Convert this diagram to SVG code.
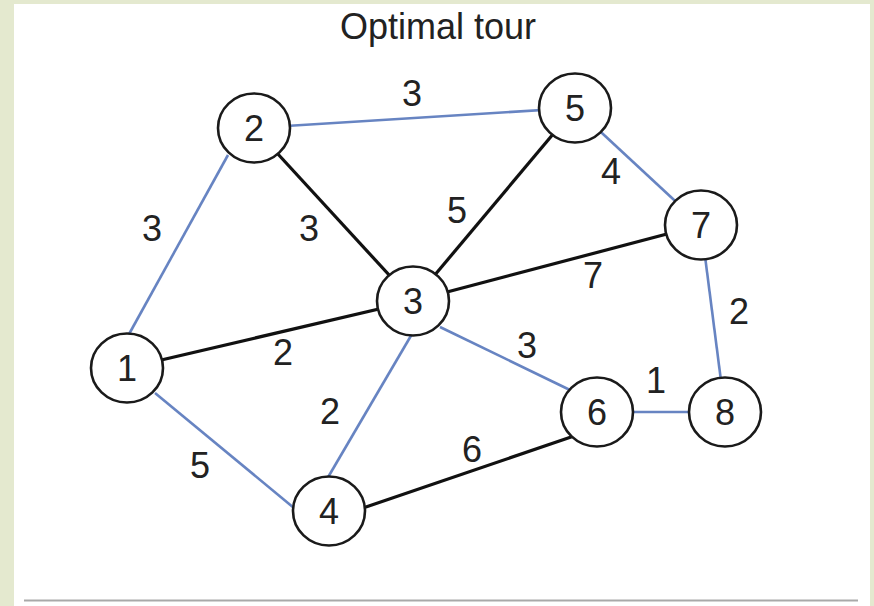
<svg xmlns="http://www.w3.org/2000/svg" width="874" height="606" viewBox="0 0 874 606">
  <style>
    .node ellipse { fill: #ffffff; stroke: #1a1a1a; stroke-width: 2.6; }
    .node text, .weight { font-family: "Liberation Sans", Arial, sans-serif; font-size: 36px; fill: #222222; text-anchor: middle; }
    .tour { stroke: #6784c2; stroke-width: 2.6; }
    .other { stroke: #111111; stroke-width: 3.2; }
    .title { font-family: "Liberation Sans", Arial, sans-serif; font-size: 36px; fill: #222222; text-anchor: middle; }
  </style>

  <!-- page background and white panel -->
  <rect x="0" y="0" width="874" height="606" fill="#e4e9cf"/>
  <rect x="14" y="4" width="856" height="602" fill="#ffffff"/>
  <line x1="24" y1="600.5" x2="858" y2="600.5" stroke="#a9a9a9" stroke-width="2"/>

  <text class="title" x="438" y="39">Optimal tour</text>

  <!-- connectors: tour edges in blue, remaining edges in black -->
  <g id="edges">
    <line class="tour" x1="128" y1="336" x2="228" y2="155"/>
    <line class="tour" x1="254" y1="128" x2="575" y2="108"/>
    <line class="tour" x1="575" y1="108" x2="701" y2="225"/>
    <line class="tour" x1="701" y1="225" x2="725" y2="412"/>
    <line class="tour" x1="725" y1="412" x2="597" y2="412"/>
    <line class="tour" x1="440" y1="327" x2="570" y2="390"/>
    <line class="tour" x1="412" y1="334" x2="327" y2="479"/>
    <line class="tour" x1="155" y1="393" x2="294" y2="508"/>
    <line class="other" x1="254" y1="128" x2="413" y2="301"/>
    <line class="other" x1="575" y1="108" x2="413" y2="301"/>
    <line class="other" x1="701" y1="225" x2="413" y2="301"/>
    <line class="other" x1="127" y1="368" x2="413" y2="301"/>
    <line class="other" x1="363" y1="508" x2="574" y2="436"/>
  </g>

  <!-- edge weights -->
  <g id="weights">
    <text class="weight" x="152" y="241">3</text>
    <text class="weight" x="412" y="106">3</text>
    <text class="weight" x="309" y="241">3</text>
    <text class="weight" x="457" y="223">5</text>
    <text class="weight" x="611" y="184">4</text>
    <text class="weight" x="593" y="288">7</text>
    <text class="weight" x="739" y="324">2</text>
    <text class="weight" x="283" y="365">2</text>
    <text class="weight" x="527" y="358">3</text>
    <text class="weight" x="656" y="393">1</text>
    <text class="weight" x="330" y="424">2</text>
    <text class="weight" x="472" y="462">6</text>
    <text class="weight" x="200" y="478">5</text>
  </g>

  <g id="node1" class="node"><ellipse cx="127" cy="368" rx="36" ry="34.5"/><text x="127" y="381">1</text></g>
  <g id="node2" class="node"><ellipse cx="254" cy="128" rx="36" ry="34.5"/><text x="254" y="141">2</text></g>
  <g id="node3" class="node"><ellipse cx="413" cy="301" rx="36" ry="34.5"/><text x="413" y="314">3</text></g>
  <g id="node4" class="node"><ellipse cx="329" cy="511" rx="36" ry="34.5"/><text x="329" y="524">4</text></g>
  <g id="node5" class="node"><ellipse cx="575" cy="108" rx="36" ry="34.5"/><text x="575" y="121">5</text></g>
  <g id="node6" class="node"><ellipse cx="597" cy="412" rx="36" ry="34.5"/><text x="597" y="425">6</text></g>
  <g id="node7" class="node"><ellipse cx="701" cy="225" rx="36" ry="34.5"/><text x="701" y="238">7</text></g>
  <g id="node8" class="node"><ellipse cx="725" cy="412" rx="36" ry="34.5"/><text x="725" y="425">8</text></g>
</svg>
